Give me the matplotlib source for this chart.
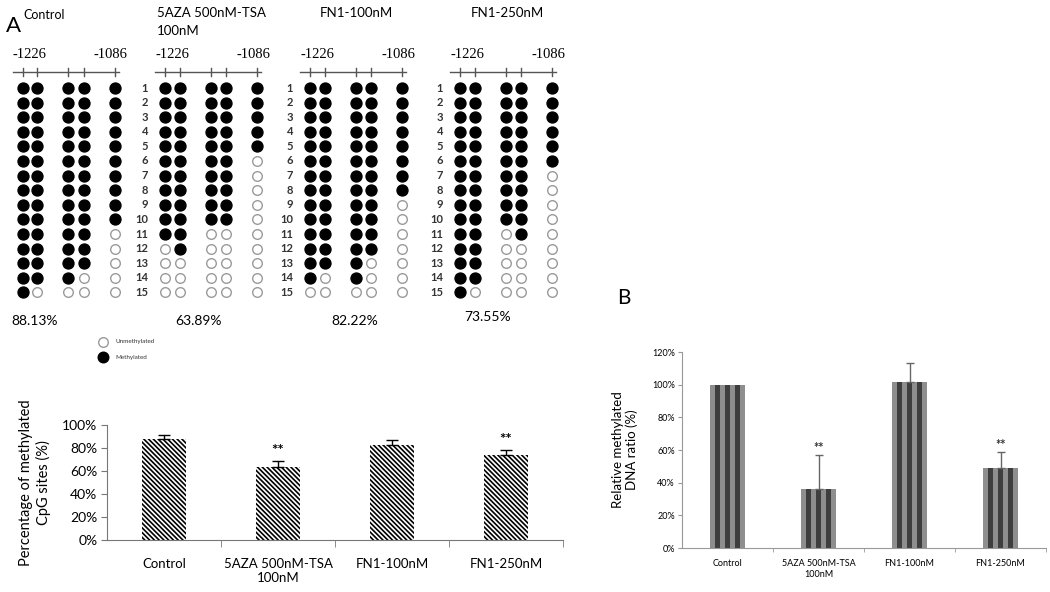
import matplotlib
matplotlib.use("Agg")
import matplotlib.pyplot as plt
import numpy as np

plt.rcParams['font.family'] = ['Lato', 'DejaVu Sans']
plt.rcParams['hatch.linewidth'] = 1.2

W, H = 1050, 592

# ---- data ----
groups = ["Control", "5AZA 500nM-TSA\n100nM", "FN1-100nM", "FN1-250nM"]
# bisulfite sequencing, 15 clones x 5 CpG sites (1 = methylated)
meth_control = ["11111"] * 10 + ["11110", "11110", "11110", "11100", "10000"]
meth_5aza = ["11111"] * 5 + ["11110"] * 5 + ["11000", "01000", "00000", "00000", "00000"]
meth_fn100 = ["11111"] * 8 + ["11110"] * 4 + ["11100", "10100", "00000"]
meth_fn250 = ["11111"] * 6 + ["11110"] * 4 + ["11010", "11000", "11000", "11000", "10000"]
meth_all = [meth_control, meth_5aza, meth_fn100, meth_fn250]
pct_labels = ["88.13%", "63.89%", "82.22%", "73.55%"]

cpg_pct = [88.13, 63.89, 82.22, 73.55]
cpg_err = [3, 5, 4.5, 5]
cpg_sig = ["", "**", "", "**"]

rel_ratio = [100, 36, 101.5, 49]
rel_err = [0, 21, 11.5, 10]
rel_sig = ["", "**", "", "**"]

fig = plt.figure(figsize=(W / 100, H / 100), dpi=100)


def px_axes(l, t, r, b):
    return fig.add_axes([l / W, 1 - b / H, (r - l) / W, (b - t) / H])


# ---- background axes for the lollipop diagrams (pixel coords) ----
bg = fig.add_axes([0, 0, 1, 1])
bg.set_xlim(0, W)
bg.set_ylim(H, 0)
bg.axis("off")

panel_x = [22.5, 165, 310, 460]
col_off = np.array([0, 14.5, 45.5, 61, 92])
row_y0, row_dy = 88, 14.6
line_y = 72

for p, rows in enumerate(meth_all):
    x0 = panel_x[p]
    xs = x0 + col_off
    bg.plot([x0 - 10, x0 + 96], [line_y, line_y], color="#555555", lw=1)
    for cx in xs:
        bg.plot([cx, cx], [line_y - 4, line_y + 4], color="#555555", lw=1)
    bg.text(x0 + 7, 54, "-1226", family="Liberation Serif", fontsize=10.5,
            ha="center", va="center")
    bg.text(x0 + 88, 54, "-1086", family="Liberation Serif", fontsize=10.5,
            ha="center", va="center")
    for r, row in enumerate(rows):
        y = row_y0 + r * row_dy
        filled = [xs[c] for c in range(5) if row[c] == "1"]
        empty = [xs[c] for c in range(5) if row[c] == "0"]
        bg.scatter(filled, [y] * len(filled), s=62, color="black", zorder=3)
        bg.scatter(empty, [y] * len(empty), s=48, facecolor="white",
                   edgecolor="#9a9a9a", linewidth=1, zorder=3)
        if p > 0:
            bg.text(x0 - 17, y, str(r + 1), fontsize=8, fontweight="bold",
                    color="#333333", ha="right", va="center")

# headers
bg.text(6, 32, "A", fontsize=16, ha="left", va="baseline")
bg.text(23, 15, "Control", fontsize=9, ha="left", va="center")
bg.text(157, 13, "5AZA 500nM-TSA", fontsize=9.5, ha="left", va="center")
bg.text(157, 31, "100nM", fontsize=9.5, ha="left", va="center")
bg.text(356, 13, "FN1-100nM", fontsize=9.5, ha="center", va="center")
bg.text(507, 13, "FN1-250nM", fontsize=9.5, ha="center", va="center")

pct_pos = [(35, 321), (198, 321), (355, 321), (488, 317)]
for (px, py), lab in zip(pct_pos, pct_labels):
    bg.text(px, py, lab, fontsize=10, ha="center", va="center")

# legend
bg.scatter([103], [342], s=48, facecolor="white", edgecolor="#9a9a9a", lw=1)
bg.scatter([103], [357], s=58, color="black")
bg.text(115, 342, "Unmethylated", fontsize=4.5, va="center", color="#333333")
bg.text(115, 357, "Methylated", fontsize=4.5, va="center", color="#333333")

bg.text(617, 298, "B", fontsize=15, ha="left", va="center")

# ---- panel A bar chart ----
x = np.arange(len(groups))
ax1 = px_axes(107, 425, 563, 540)
ax1.bar(x, cpg_pct, width=0.38, color="white", edgecolor="black",
        hatch="\\" * 7, linewidth=0)
ax1.errorbar(x, cpg_pct, yerr=[np.zeros(len(x)), cpg_err], fmt="none",
             ecolor="black", elinewidth=1, capsize=4, capthick=1)
for i, s in enumerate(cpg_sig):
    if s:
        ax1.text(x[i], cpg_pct[i] + cpg_err[i] + 2, s, ha="center",
                 va="bottom", fontsize=11, fontweight="bold")
ax1.set_xlim(-0.5, 3.5)
ax1.set_ylim(0, 100)
ax1.set_yticks(np.arange(0, 101, 20))
ax1.set_yticklabels([f"{v}%" for v in range(0, 101, 20)], fontsize=10)
ax1.set_xticks(x)
ax1.set_xticklabels(groups, fontsize=9.5)
ax1.set_xticks([0.5, 1.5, 2.5, 3.5], minor=True)
ax1.tick_params(axis="x", which="major", length=0, pad=13)
ax1.tick_params(axis="x", which="minor", length=5, color="#777777")
ax1.tick_params(axis="y", length=4, color="#777777", pad=3)
for sp in ["top", "right"]:
    ax1.spines[sp].set_visible(False)
for sp in ["left", "bottom"]:
    ax1.spines[sp].set_color("#777777")
ax1.set_ylabel("Percentage of methylated\nCpG sites (%)", fontsize=10.5,
               labelpad=8)

# ---- panel B bar chart ----
ax2 = px_axes(682, 352, 1046, 548)
bw = 0.39
n_str = 7
stripe_cols = ["#8e8e8e", "#3e3e3e"]
for k in range(n_str):
    ax2.bar(x - bw / 2 + (k + 0.5) * bw / n_str, rel_ratio, width=bw / n_str,
            color=stripe_cols[k % 2], linewidth=0)
has_err = [i for i in range(len(x)) if rel_err[i] > 0]
ax2.errorbar(x[has_err], [rel_ratio[i] for i in has_err],
             yerr=[np.zeros(len(has_err)), [rel_err[i] for i in has_err]],
             fmt="none", ecolor="#666666", elinewidth=1, capsize=3, capthick=1)
for i, s in enumerate(rel_sig):
    if s:
        ax2.text(x[i], rel_ratio[i] + rel_err[i] + 0.5, s, ha="center",
                 va="bottom", fontsize=9, fontweight="bold", color="#333333")
ax2.set_xlim(-0.5, 3.5)
ax2.set_ylim(0, 120)
ax2.set_yticks(np.arange(0, 121, 20))
ax2.set_yticklabels([f"{v}%" for v in range(0, 121, 20)], fontsize=6.5)
ax2.set_xticks(x)
ax2.set_xticklabels(groups, fontsize=6.5)
ax2.set_xticks([0.5, 1.5, 2.5, 3.5], minor=True)
ax2.tick_params(axis="x", which="major", length=0, pad=8)
ax2.tick_params(axis="x", which="minor", length=3, color="#999999")
ax2.tick_params(axis="y", length=3, color="#999999", pad=2)
for sp in ["top", "right"]:
    ax2.spines[sp].set_visible(False)
for sp in ["left", "bottom"]:
    ax2.spines[sp].set_color("#999999")
ax2.set_ylabel("Relative methylated\nDNA ratio (%)", fontsize=9.5, labelpad=10)

fig.savefig("out.png", dpi=100)
